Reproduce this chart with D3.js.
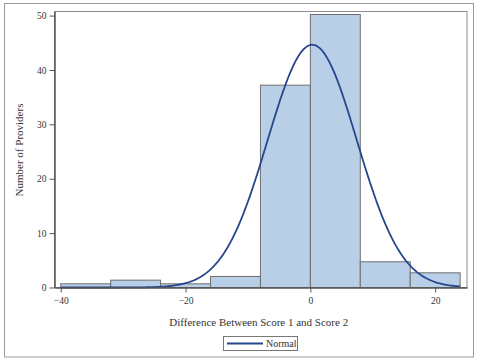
<!DOCTYPE html>
<html>
<head>
<meta charset="utf-8">
<script src="https://cdn.jsdelivr.net/npm/d3@7"></script>
<style>
  body { margin: 0; background: #fff; }
  svg { display: block; font-family: "Liberation Serif", "DejaVu Serif", serif; }
  .axis path, .axis line { stroke: #555; }
  .axis text { fill: #333; font-size: 9.5px; font-family: "Liberation Serif", "DejaVu Serif", serif; }
</style>
</head>
<body>
<svg id="chart" width="477" height="363"></svg>
<script>
// histogram bins (lower edge of each bin, width 8) and heights
var binStarts = [-40, -32, -24, -16, -8, 0, 8, 16]
var binWidth = 8
var binValues = [0.68, 1.35, 0.68, 2.03, 37.2, 50.2, 4.73, 2.70]

// fitted normal curve parameters (curve scaled to percent per bin)
var normalMean = 0.3
var normalSd = 7.15
var curveTotal = 100

var yTicks = [0, 10, 20, 30, 40, 50]
var xTicks = [-40, -20, 0, 20]

var svg = d3.select("#chart")

// outer frame
svg.append("rect")
  .attr("x", 4.5).attr("y", 3.5)
  .attr("width", 469).attr("height", 353.5)
  .attr("fill", "none").attr("stroke", "#9a9a9a")

var plotLeft = 54.5, plotRight = 467, plotTop = 11.5, plotBottom = 287.5

var x = d3.scaleLinear().domain([-41, 25.1]).range([plotLeft, plotRight])
var y = d3.scaleLinear().domain([0, 50.75]).range([plotBottom, plotTop])

// plot frame
svg.append("rect")
  .attr("x", plotLeft).attr("y", plotTop)
  .attr("width", plotRight - plotLeft).attr("height", plotBottom - plotTop)
  .attr("fill", "none").attr("stroke", "#8c8c8c")

// bars
svg.selectAll(".bar")
  .data(binStarts)
  .enter().append("rect")
  .attr("class", "bar")
  .attr("x", (d) => x(d))
  .attr("width", (d) => x(d + binWidth) - x(d))
  .attr("y", (d, i) => y(binValues[i]))
  .attr("height", (d, i) => y(0) - y(binValues[i]))
  .attr("fill", "#b9cee7")
  .attr("stroke", "#6e6e6e")
  .attr("stroke-width", 1)

// normal density curve
var curveXs = d3.range(-40, 24.01, 0.25)
var line = d3.line()
  .x((d) => x(d))
  .y((d) => y(curveTotal * binWidth * Math.exp(-0.5 * Math.pow((d - normalMean) / normalSd, 2)) / (normalSd * Math.sqrt(2 * Math.PI))))

svg.append("path")
  .datum(curveXs)
  .attr("d", line)
  .attr("fill", "none")
  .attr("stroke", "#26478c")
  .attr("stroke-width", 1.8)

// axes
svg.append("g")
  .attr("class", "axis")
  .attr("transform", `translate(${plotLeft},0)`)
  .call(d3.axisLeft(y).tickValues(yTicks).tickSize(5).tickSizeOuter(0).tickFormat(d3.format("d")))
  .call(g => g.select(".domain").attr("stroke-width", 1.5))

svg.append("g")
  .attr("class", "axis")
  .attr("transform", `translate(0,${plotBottom})`)
  .call(d3.axisBottom(x).tickValues(xTicks).tickSize(5).tickSizeOuter(0).tickFormat(d3.format("d")))
  .call(g => g.select(".domain").attr("stroke-width", 1.5))
  .call(g => g.selectAll("text").attr("dy", "0.9em"))

// axis labels
svg.append("text")
  .attr("x", (plotLeft + plotRight) / 2 - 2)
  .attr("y", 326)
  .attr("text-anchor", "middle")
  .attr("font-size", "11px")
  .attr("fill", "#333")
  .text("Difference Between Score 1 and Score 2")

svg.append("text")
  .attr("transform", "translate(23,150) rotate(-90)")
  .attr("text-anchor", "middle")
  .attr("font-size", "11px")
  .attr("fill", "#333")
  .text("Number of Providers")

// legend
var legend = svg.append("g").attr("transform", "translate(223,336)")
legend.append("rect")
  .attr("x", 0.5).attr("y", 0.5)
  .attr("width", 74).attr("height", 14)
  .attr("fill", "#fff").attr("stroke", "#777")
legend.append("line")
  .attr("x1", 4).attr("x2", 40)
  .attr("y1", 7.5).attr("y2", 7.5)
  .attr("stroke", "#26478c").attr("stroke-width", 1.8)
legend.append("text")
  .attr("x", 43).attr("y", 11)
  .attr("font-size", "10px")
  .attr("fill", "#333")
  .text("Normal")
</script>
</body>
</html>
